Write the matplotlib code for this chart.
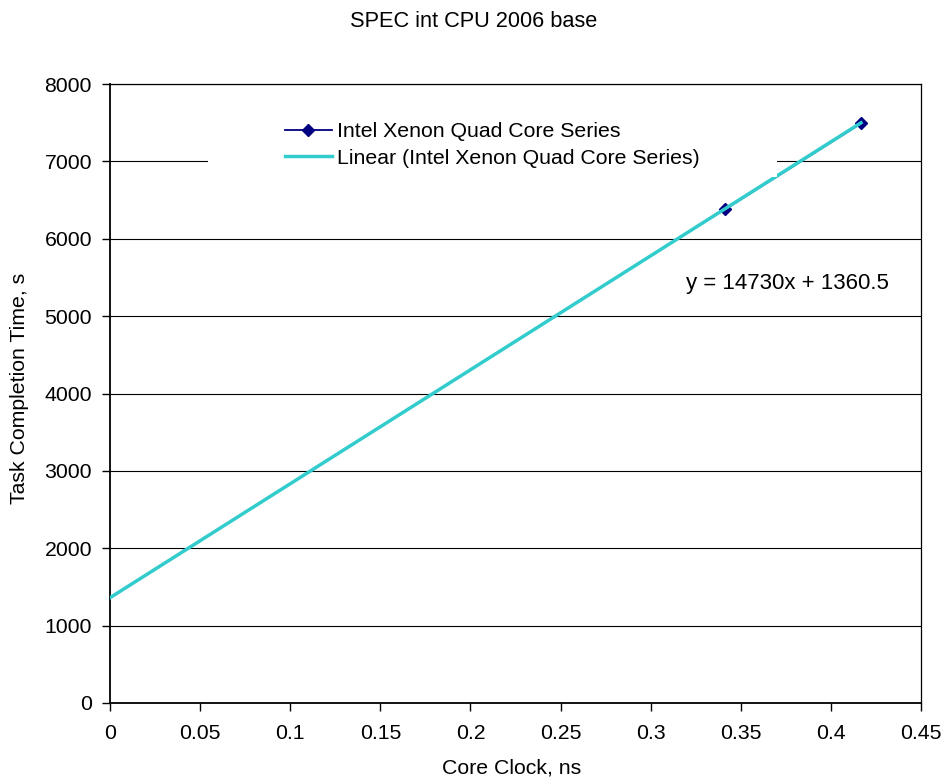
import matplotlib
matplotlib.use("Agg")
import matplotlib.pyplot as plt
import numpy as np
from matplotlib.patches import Rectangle
from matplotlib.lines import Line2D

plt.rcParams['font.family'] = ['Liberation Sans', 'DejaVu Sans']

# Data
core_clock_ns = [0.3413, 0.4167]
completion_time_s = [6380, 7490]
slope = 14730
intercept = 1360.5
series_name = "Intel Xenon Quad Core Series"
trend_name = "Linear (Intel Xenon Quad Core Series)"
x_ticks = [0, 0.05, 0.1, 0.15, 0.2, 0.25, 0.3, 0.35, 0.4, 0.45]
x_tick_labels = ["0", "0.05", "0.1", "0.15", "0.2", "0.25", "0.3", "0.35", "0.4", "0.45"]
y_ticks = [0, 1000, 2000, 3000, 4000, 5000, 6000, 7000, 8000]

fs = 15.3
fig = plt.figure(figsize=(9.48, 7.78), dpi=100)
ax = fig.add_axes([110/948, 1-703/778, (921-110)/948, (703-84)/778])

ax.set_xlim(0, 0.45)
ax.set_ylim(0, 8000)
ax.set_xticks(x_ticks)
ax.set_xticklabels(x_tick_labels)
ax.set_yticks(y_ticks)
ax.set_yticklabels([str(v) for v in y_ticks])
ax.tick_params(axis='both', labelsize=fs, direction='out', length=6, width=1, colors='black')
ax.tick_params(axis='y', pad=7)
ax.tick_params(axis='x', pad=9)
ax.yaxis.grid(True, color='black', linewidth=0.8, zorder=0)
ax.set_axisbelow(True)
for side in ['left', 'bottom']:
    ax.spines[side].set_linewidth(1.3)
for side in ['right', 'top']:
    ax.spines[side].set_linewidth(0.9)

# Series
ax.plot(core_clock_ns, completion_time_s, color='#000080', marker='D', markersize=6,
        linewidth=1.3, zorder=3)
# Trendline
xt = np.array([0, max(core_clock_ns)])
ax.plot(xt, slope * xt + intercept, color='#33CCCC', linewidth=2.5, zorder=4)

# Legend background box
box = Rectangle((208/948, 1-177/778), (777-208)/948, (177-112)/778,
                transform=fig.transFigure, facecolor='white', edgecolor='none', zorder=5)
fig.add_artist(box)
handles = [Line2D([], [], color='#000080', marker='D', markersize=6.5, linewidth=1.3),
           Line2D([], [], color='#33CCCC', linewidth=2.5)]
leg = fig.legend(handles, [series_name, trend_name], loc='upper left',
                 bbox_to_anchor=(285/948, 1-122/778), frameon=False, fontsize=fs,
                 handlelength=2.19, handletextpad=0.28, labelspacing=0.36, borderpad=0,
                 borderaxespad=0)
leg.set_zorder(6)

ax.text(0.3194, 5428, f"y = {slope}x + {intercept}", fontsize=16, ha='left', va='center')

fig.text(474/948, 1-21.5/778, "SPEC int CPU 2006 base", fontsize=15.7, ha='center', va='center')
fig.text(512/948, 1-768/778, "Core Clock, ns", fontsize=fs, ha='center', va='center')
fig.text(20/948, 1-388/778, "Task Completion Time, s", fontsize=fs, ha='center', va='center',
         rotation=90)

fig.savefig("out.png", dpi=100)
